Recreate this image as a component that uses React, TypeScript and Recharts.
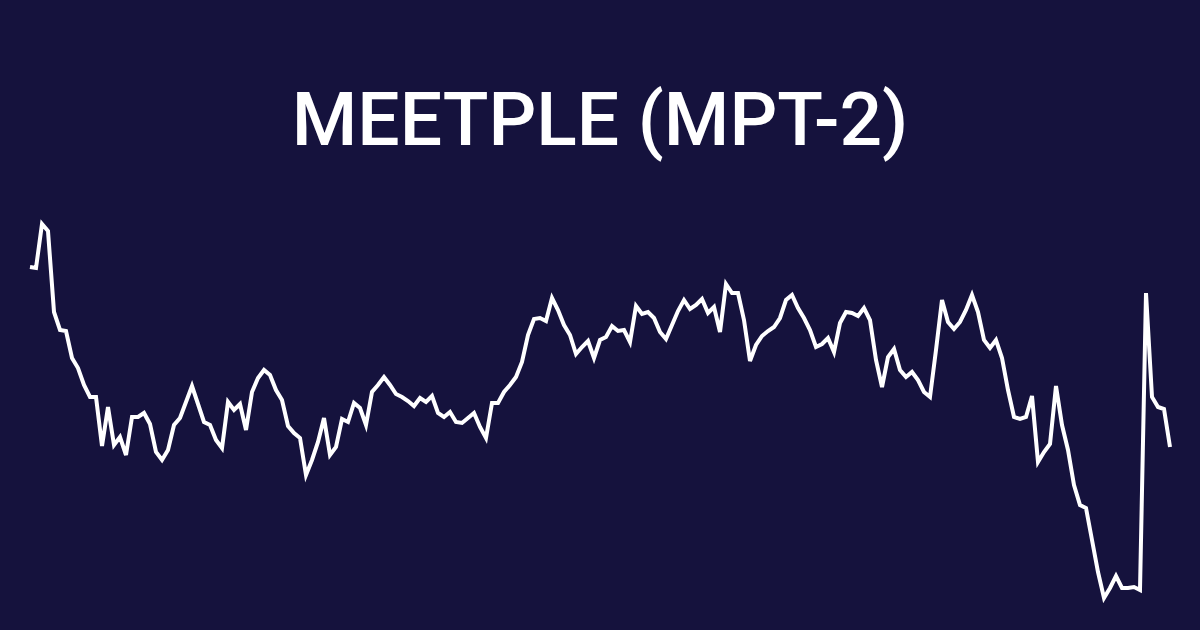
import React from 'react'
import { LineChart, Line, XAxis, YAxis } from 'recharts'

// daily close (arbitrary units)
const days: number[] = Array.from({ length: 191 }, (_, i) => i + 1)

const closes: number[] = [
  4.33, 4.32, 4.76, 4.69, 3.88, 3.70, 3.69, 3.42, 3.32, 3.15,
  3.03, 3.03, 2.54, 2.93, 2.55, 2.63, 2.45, 2.83, 2.83, 2.87,
  2.76, 2.48, 2.40, 2.50, 2.75, 2.82, 2.98, 3.14, 2.96, 2.78,
  2.75, 2.60, 2.52, 2.98, 2.90, 2.96, 2.70, 3.08, 3.22, 3.30,
  3.25, 3.10, 3.00, 2.74, 2.67, 2.62, 2.25, 2.40, 2.58, 2.82,
  2.45, 2.53, 2.81, 2.78, 2.97, 2.92, 2.75, 3.08, 3.15, 3.23,
  3.15, 3.06, 3.03, 2.99, 2.94, 3.02, 2.98, 3.04, 2.87, 2.83,
  2.88, 2.78, 2.77, 2.82, 2.87, 2.73, 2.62, 2.97, 2.97, 3.08,
  3.15, 3.23, 3.38, 3.65, 3.81, 3.82, 3.79, 4.02, 3.90, 3.75,
  3.65, 3.46, 3.53, 3.59, 3.42, 3.60, 3.63, 3.74, 3.69, 3.70,
  3.58, 3.94, 3.86, 3.88, 3.82, 3.68, 3.61, 3.75, 3.89, 4.00,
  3.91, 3.95, 4.01, 3.87, 3.93, 3.68, 4.16, 4.07, 4.07, 3.80,
  3.39, 3.55, 3.64, 3.69, 3.73, 3.82, 4.00, 4.05, 3.92, 3.82,
  3.70, 3.53, 3.56, 3.62, 3.48, 3.77, 3.88, 3.87, 3.84, 3.92,
  3.80, 3.40, 3.13, 3.43, 3.51, 3.30, 3.23, 3.28, 3.20, 3.08,
  3.03, 3.50, 4.00, 3.78, 3.71, 3.78, 3.90, 4.05, 3.88, 3.60,
  3.52, 3.60, 3.42, 3.10, 2.83, 2.81, 2.83, 3.04, 2.38, 2.48,
  2.56, 3.14, 2.75, 2.50, 2.15, 1.95, 1.92, 1.60, 1.28, 1.02,
  1.12, 1.24, 1.12, 1.12, 1.13, 1.10, 4.07, 3.03, 2.93, 2.91,
  2.53,
]

const title = 'MEETPLE (MPT-2)'

const rows = days.map((d, i) => ({ day: d, close: closes[i] }))

export default function App() {
  return (
    <div
      style={{
        position: 'fixed',
        left: 0,
        top: 0,
        width: 1200,
        height: 630,
        background: '#15123d',
        overflow: 'hidden',
      }}
    >
      <div
        style={{
          position: 'absolute',
          left: 0,
          top: 82,
          width: 1200,
          textAlign: 'center',
          color: '#ffffff',
          fontFamily: 'Roboto, sans-serif',
          fontWeight: 500,
          fontSize: 75,
          lineHeight: 1,
        }}
      >
        {title}
      </div>
      <div style={{ position: 'absolute', left: 0, top: 0 }}>
        <LineChart width={1200} height={630} data={rows} margin={{ top: 224, right: 30, bottom: 32, left: 30 }}>
          <XAxis dataKey="day" hide />
          <YAxis hide domain={['dataMin', 'dataMax']} />
          <Line
            type="linear"
            dataKey="close"
            stroke="#ffffff"
            strokeWidth={4}
            dot={false}
            activeDot={false}
            isAnimationActive={false}
          />
        </LineChart>
      </div>
    </div>
  )
}
